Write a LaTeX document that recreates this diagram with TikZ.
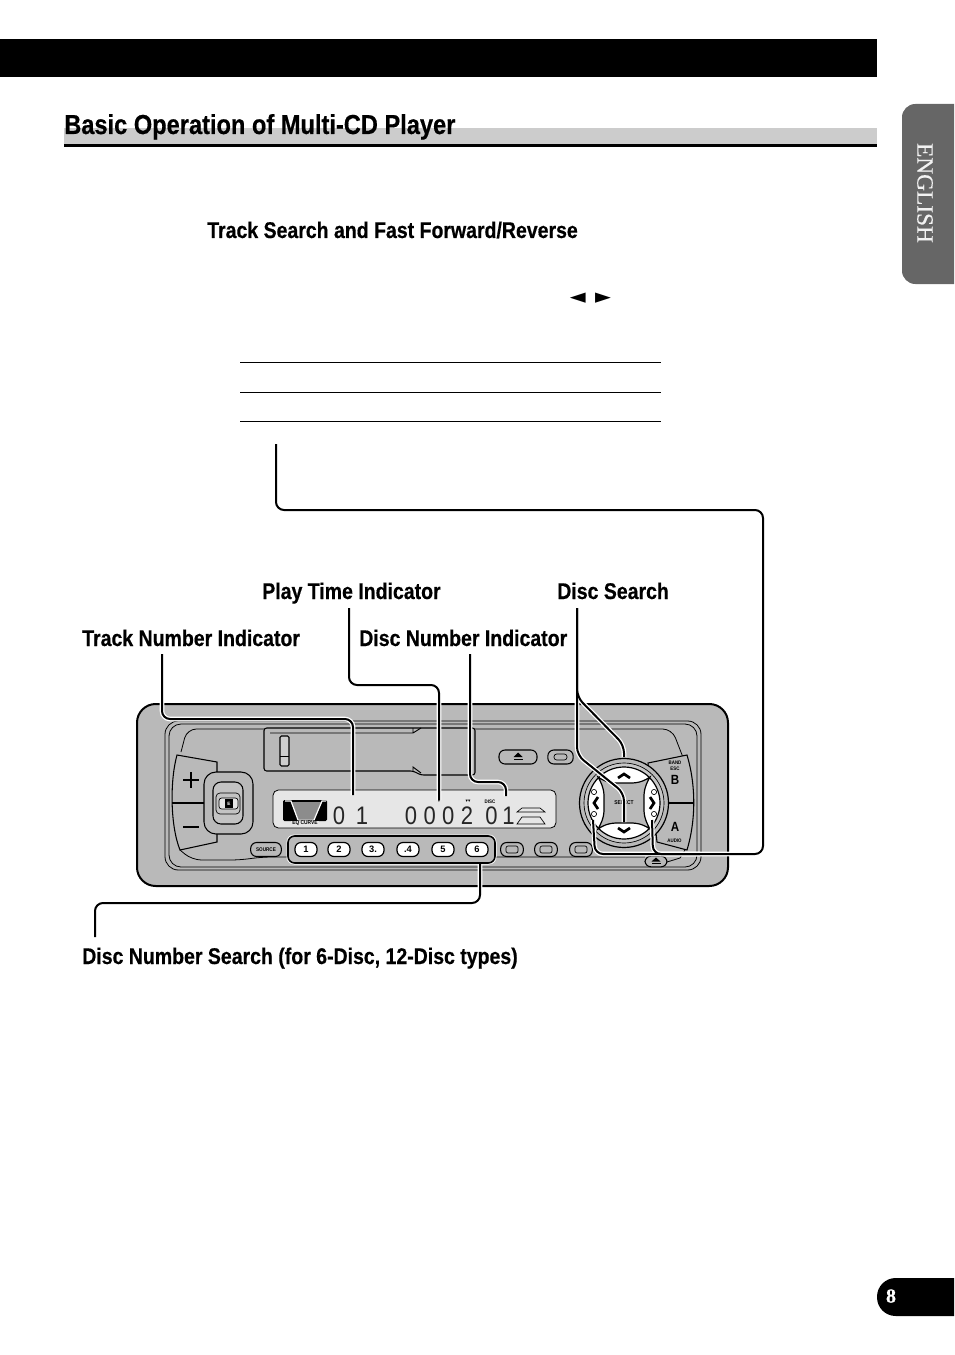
\documentclass[tikz,border=0pt]{standalone}
\usepackage{fontspec}
\setmainfont{Liberation Sans}
\newfontfamily\condf[FakeStretch=0.87]{Liberation Sans}
\newfontfamily\headf[FakeStretch=0.86,FakeBold=0.5]{Liberation Sans}
\newfontfamily\serf[FakeBold=0.4]{Liberation Serif}
\newfontfamily\dejav{DejaVu Sans}
\definecolor{panelg}{HTML}{B9B9B9}
\definecolor{tabg}{HTML}{666666}
\definecolor{lcdg}{HTML}{E6E6E6}
\tikzset{
  lbl/.style={anchor=base west,inner sep=0pt,font=\headf\bfseries\fontsize{17}{20}\selectfont},
  connhalo/.style={draw=white,line width=3.4pt,rounded corners=6pt},
  conn/.style={black,line width=1.5pt,rounded corners=6pt},
  hair/.style={black,line width=0.6pt},
  part/.style={draw=black,line width=0.8pt,fill=panelg},
  numbtn/.style={draw=black,line width=0.9pt,fill=white,rounded corners=4.5pt,minimum width=16.5pt,minimum height=10.5pt,inner sep=0pt,font=\bfseries\fontsize{7}{7}\selectfont},
  graybtn/.style={draw=black,line width=0.8pt,fill=panelg,rounded corners=4.5pt,minimum width=17pt,minimum height=10.5pt,inner sep=0pt},
  tiny/.style={inner sep=0pt,font=\condf\bfseries\fontsize{3.8}{4}\selectfont},
  lcd/.style={anchor=base,inner sep=0pt,text=black!85,font=\condf\fontsize{19}{19}\selectfont},
}
\begin{document}
\begin{tikzpicture}[x=0.75pt,y=-0.75pt]
\useasboundingbox (0,0) rectangle (954,1355);
% page furniture
\fill[black] (0,39) rectangle (877,77);
\fill[black!20] (64,128) rectangle (877,144);
\fill[black] (64,144) rectangle (877,147);
\node[lbl,font=\headf\bfseries\fontsize{20.6}{24}\selectfont] (title) at (64,134) {Basic Operation of Multi-CD Player};
\node[lbl] (sub) at (207,238) {Track Search and Fast Forward/Reverse};
\node[anchor=base,inner sep=0pt,font=\dejav\fontsize{15.5}{16}\selectfont] (tri) at (590.5,303) {◄\hspace{7pt}►};
\draw[hair] (240,362) -- (661,362);
\draw[hair] (240,392) -- (661,392);
\draw[hair] (240,421) -- (661,421);
\fill[tabg] (954,104) [rounded corners=10pt] -- (902,104) -- (902,284) [sharp corners] -- (954,284) -- cycle;
\node[rotate=-90,inner sep=0pt,text=black!5,font=\serf\fontsize{17.5}{18}\selectfont] (lang) at (925,193) {ENGLISH};
\fill[black] (954,1278) [rounded corners=14pt] -- (877,1278) -- (877,1316) [sharp corners] -- (954,1316) -- cycle;
\node[inner sep=0pt,text=white,font=\serf\bfseries\fontsize{15}{15}\selectfont] (pg) at (891,1296) {8};
% labels
\node[lbl] (lplay) at (262,599) {Play Time Indicator};
\node[lbl] (lsearch) at (557,599) {Disc Search};
\node[lbl] (ltrack) at (82,646) {Track Number Indicator};
\node[lbl] (ldisc) at (359,646) {Disc Number Indicator};
\node[lbl] (lnum) at (82,964) {Disc Number Search (for 6-Disc, 12-Disc types)};
% panel
\draw[line width=1.5pt,fill=panelg,rounded corners=14pt] (137,704) rectangle (728,886);
\draw[line width=0.6pt,rounded corners=10pt] (165,721) rectangle (701,870);
\draw[line width=0.6pt,rounded corners=9pt] (169,724) rectangle (697,867);
\draw[line width=0.6pt,rounded corners=7pt] (181,752) -- (187,729) -- (264,729);
\draw[line width=0.6pt,rounded corners=7pt] (475,729) -- (672,729) -- (684,760);
\draw[line width=0.6pt,rounded corners=7pt] (180,850) -- (192,860) -- (240,860) -- (262,857) -- (645,857);
\draw[line width=0.6pt] (667,862) -- (680,858) -- (685,850);
% slot
\draw[line width=0.8pt,rounded corners=2pt] (264,728) -- (475,728) -- (475,775) -- (421,775) -- (413,771) -- (264,771) -- cycle;
\draw[line width=0.7pt] (270,733) -- (413,733) -- (421,728) (413,728) -- (413,733);
\draw[line width=0.7pt] (413,771) -- (413,767) -- (421,773);
\draw[line width=0.8pt,fill=panelg!70!white,rounded corners=1pt] (280,736) rectangle (289,766);
\draw[line width=0.5pt] (280,756) -- (289,756);
% volume
\draw[part] (217,762) -- (177,755) .. controls (170,780) and (170,825) .. (180,850) -- (217,842) -- cycle;
\draw[line width=1pt] (172,803) -- (205,803);
\draw[line width=2pt] (183,780) -- (199,780) (191,772) -- (191,788);
\draw[line width=2.2pt] (183,827) -- (199,827);
\draw[part,rounded corners=9pt] (204,772) rectangle (253,834);
\draw[part,fill=panelg!85!white,rounded corners=6pt] (213,782) rectangle (243,824);
\draw[line width=0.5pt,rounded corners=3pt] (216,793) rectangle (240,814);
\draw[line width=0.5pt,fill=lcdg,rounded corners=2pt] (219,798) rectangle (238,809);
\fill[black] (225,799) rectangle (233,808);
\node[inner sep=0pt,text=white,font=\bfseries\fontsize{3.5}{4}\selectfont] (knobtxt) at (229,803.5) {E};
% display
\draw[line width=0.6pt,fill=lcdg,rounded corners=4pt] (273,790) rectangle (556,828);
\fill[black,rounded corners=1pt] (283,800) rectangle (327,821);
\fill[black!45] (291,802) -- (322,802) -- (314,819) -- (298,819) -- cycle;
\draw[white,line width=0.9pt] (285,801) -- (291,801) -- (298,820) -- (314,820) -- (322,801) -- (326,801);
\node[tiny,text=black,fill=lcdg,inner xsep=1pt,font=\condf\bfseries\fontsize{4.2}{5}\selectfont] (eq) at (305,823) {EQ CURVE};
\node[lcd] (d1) at (350.5,824) {0\hspace{8pt}1};
\node[lcd] (d2) at (439,824) {0\hspace{4.8pt}0\hspace{4.8pt}0\hspace{4.8pt}2};
\node[lcd] (d3) at (500,824) {0\hspace{3.5pt}1};
\draw[line width=0.5pt] (517,812) -- (522,808) -- (540,808) -- (545,812) -- cycle;
\draw[line width=0.5pt] (517,824) -- (522,817) -- (540,817) -- (545,824) -- cycle;
\node[tiny] (ldiscs) at (490,801.5) {DISC};
\node[inner sep=0pt,font=\dejav\fontsize{3.5}{4}\selectfont] (m1) at (439,801.5) {▾};
\node[inner sep=0pt,font=\dejav\fontsize{3.5}{4}\selectfont] (m2) at (468,801.5) {▾▾};
% buttons
\draw[part,rounded corners=5pt,line width=1.5pt,draw=white] (287.5,835.5) rectangle (495.5,863.5);
\draw[line width=1.2pt,rounded corners=5pt] (288,836) rectangle (495,863);
\node[numbtn] (b1) at (306,849.5) {1};
\node[numbtn] (b2) at (339,849.5) {2};
\node[numbtn] (b3) at (373,849.5) {3.};
\node[numbtn] (b4) at (408,849.5) {.4};
\node[numbtn] (b5) at (443,849.5) {5};
\node[numbtn] (b6) at (477,849.5) {6};
\node[graybtn,font=\condf\bfseries\fontsize{4}{4}\selectfont,minimum width=23pt] (bsrc) at (266,849.5) {SOURCE};
\foreach \n/\x in {g1/512,g2/546,g3/581}{
  \node[graybtn] (\n) at (\x,849.5) {};
  \draw[line width=0.5pt,rounded corners=1.5pt] (\x-6,846) rectangle (\x+6,853);
}
\node[graybtn,minimum width=28.5pt] (bej) at (518,757) {};
\fill[black] (513.5,757) -- (522.5,757) -- (518,752.5) -- cycle;
\fill[black] (513.5,758.5) rectangle (522.5,760);
\node[graybtn,minimum width=19pt] (bmid) at (560.5,757) {};
\draw[line width=0.5pt,rounded corners=2pt] (554,754) rectangle (567,760);
\node[graybtn,minimum width=16.5pt,minimum height=8pt] (bej2) at (656,861.5) {};
\fill[black] (651.5,861.5) -- (660.5,861.5) -- (656,857.5) -- cycle;
\fill[black] (651.5,862.5) rectangle (660.5,864);
% right band panel
\draw[part] (648,763) -- (687,755) .. controls (696,785) and (696,820) .. (687,850) -- (657,842) -- cycle;
\draw[line width=1pt] (668,803) -- (693,803);
\node[tiny] (tband) at (675,762.5) {BAND};
\node[tiny] (tesc) at (675,768.5) {ESC};
\node[inner sep=0pt,font=\condf\bfseries\fontsize{10}{10}\selectfont] (tb) at (675,780) {B};
\node[inner sep=0pt,font=\condf\bfseries\fontsize{10}{10}\selectfont] (ta) at (675,827) {A};
\node[tiny] (taud) at (674.5,840.5) {AUDIO};
% round pad
\begin{scope}[shift={(624,803)}]
\draw[line width=0.9pt,fill=panelg] (0,0) circle[radius=44.5];
\draw[line width=0.5pt,fill=panelg!80!white] (0,0) circle[radius=40];
\draw[line width=0.9pt,fill=white] (0,0) circle[radius=36];
\draw[line width=0.9pt,fill=panelg] (-26,-26) .. controls (-16,-19) and (-8,-20) .. (0,-20) .. controls (8,-20) and (16,-19) .. (26,-26) .. controls (19,-14) and (20,-8) .. (20,0) .. controls (20,8) and (19,14) .. (26,26) .. controls (16,19) and (8,20) .. (0,20) .. controls (-8,20) and (-16,19) .. (-26,26) .. controls (-19,14) and (-20,8) .. (-20,0) .. controls (-20,-8) and (-19,-14) .. (-26,-26) -- cycle;
\draw[line width=2pt] (-6,-25) -- (0,-29) -- (6,-25);
\draw[line width=2pt] (-6,25) -- (0,29) -- (6,25);
\draw[line width=2pt] (-26,-6) -- (-30,0) -- (-26,6);
\draw[line width=2pt] (26,-6) -- (30,0) -- (26,6);
\foreach \sx in {-1,1}\foreach \sy in {-1,1}
  \draw[line width=0.5pt,fill=white] (\sx*30,\sy*11) circle[radius=2.6];
\node[tiny,font=\condf\bfseries\fontsize{4.2}{4}\selectfont] (tsel) at (0,0) {SELECT};
\end{scope}
% connectors
\coordinate (a0) at (162,654); \coordinate (a1) at (162,719); \coordinate (a2) at (353,719); \coordinate (a3) at (353,795);
\coordinate (c0) at (349,608); \coordinate (c1) at (349,685); \coordinate (c2) at (439,685); \coordinate (c3) at (439,800);
\coordinate (e0) at (470,654); \coordinate (e1) at (470,782); \coordinate (e2) at (506,782); \coordinate (e3) at (506,796);
\coordinate (s0) at (577,608); \coordinate (s1) at (577,697); \coordinate (s2) at (624,745); \coordinate (s3) at (624,757);
\coordinate (s4) at (577,755); \coordinate (s5) at (624,793); \coordinate (s6) at (624,822);
\coordinate (r0) at (276,444); \coordinate (r1) at (276,510); \coordinate (r2) at (763,510); \coordinate (r3) at (763,854);
\coordinate (r4) at (595,854); \coordinate (r5) at (593,820); \coordinate (r6) at (653,854); \coordinate (r7) at (652,820); \coordinate (r8) at (700,854);
\coordinate (f0) at (480,864); \coordinate (f1) at (480,903); \coordinate (f2) at (95,903); \coordinate (f3) at (95,937);
\draw[connhalo] (a0) -- (a1) -- (a2) -- (a3);
\draw[connhalo] (c0) -- (c1) -- (c2) -- (c3);
\draw[connhalo] (e0) -- (e1) -- (e2) -- (e3);
\draw[connhalo] (s0) -- (s1) -- (s2) -- (s3);
\draw[connhalo] (s0) -- (s4) -- (s5) -- (s6);
\draw[connhalo] (r7) -- (r6) -- (r8);
\draw[connhalo] (r0) -- (r1) -- (r2) -- (r3) -- (r4) -- (r5);
\draw[connhalo] (f0) -- (f1) -- (f2) -- (f3);
\draw[conn] (a0) -- (a1) -- (a2) -- (a3);
\draw[conn] (c0) -- (c1) -- (c2) -- (c3);
\draw[conn] (e0) -- (e1) -- (e2) -- (e3);
\draw[conn] (s0) -- (s1) -- (s2) -- (s3);
\draw[conn] (s0) -- (s4) -- (s5) -- (s6);
\draw[conn] (r7) -- (r6) -- (r8);
\draw[conn] (r0) -- (r1) -- (r2) -- (r3) -- (r4) -- (r5);
\draw[conn] (f0) -- (f1) -- (f2) -- (f3);
\end{tikzpicture}
\end{document}
